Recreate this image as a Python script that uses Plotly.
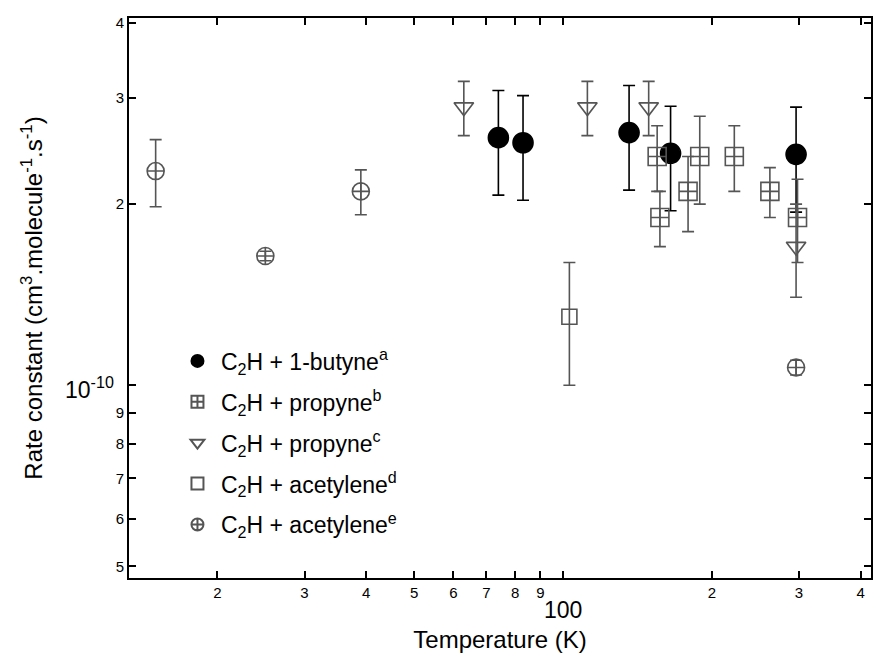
import plotly.graph_objects as go

# C2H + 1-butyne (a)
butyne_T = [74, 83, 136, 165, 296]
butyne_k = [2.58e-10, 2.53e-10, 2.63e-10, 2.43e-10, 2.42e-10]
butyne_err = [0.51e-10, 0.50e-10, 0.52e-10, 0.48e-10, 0.48e-10]

# C2H + propyne (b)
propyne_b_T = [155, 157, 179, 189, 222, 262, 298]
propyne_b_k = [2.4e-10, 1.9e-10, 2.1e-10, 2.4e-10, 2.4e-10, 2.1e-10, 1.9e-10]
propyne_b_err = [0.3e-10, 0.2e-10, 0.3e-10, 0.4e-10, 0.3e-10, 0.2e-10, 0.3e-10]

# C2H + propyne (c)
propyne_c_T = [63, 112, 149, 296]
propyne_c_k = [2.9e-10, 2.9e-10, 2.9e-10, 1.7e-10]
propyne_c_err = [0.3e-10, 0.3e-10, 0.3e-10, 0.3e-10]

# C2H + acetylene (d)
acetylene_d_T = [103]
acetylene_d_k = [1.3e-10]
acetylene_d_err = [0.3e-10]

# C2H + acetylene (e)
acetylene_e_T = [15, 25, 39, 296]
acetylene_e_k = [2.27e-10, 1.64e-10, 2.10e-10, 1.07e-10]
acetylene_e_err = [0.29e-10, 0.03e-10, 0.18e-10, 0.03e-10]

# Tick labels (the decade labels are drawn larger, as separate annotations)
x_tickvals = [20, 30, 40, 50, 60, 70, 80, 90, 100, 200, 300, 400]
x_ticktext = ["2", "3", "4", "5", "6", "7", "8", "9", "", "2", "3", "4"]
y_tickvals = [5e-11, 6e-11, 7e-11, 8e-11, 9e-11, 1e-10, 2e-10, 3e-10, 4e-10]
y_ticktext = ["5", "6", "7", "8", "9", "", "2", "3", "4"]
x_decade_label = "100"
y_decade_label = "10<sup>-10</sup>"

GRAY = "#555555"
FONT = "Liberation Sans, Arial, Helvetica, sans-serif"

fig = go.Figure()


def add_series(T, k, err, name, symbol, size, color, fill=None):
    fig.add_trace(go.Scatter(
        x=T, y=k, mode="markers", name=name, legendgroup=name,
        marker=dict(symbol=symbol, size=size,
                    color=fill if fill else color,
                    line=dict(color=color, width=1.6)),
        error_y=dict(type="data", array=err, arrayminus=err, visible=True,
                     color=color, thickness=1.6, width=6),
    ))


add_series(butyne_T, butyne_k, butyne_err,
           "C<sub>2</sub>H + 1-butyne<sup>a</sup>", "circle", 20, "black", fill="black")
add_series(propyne_b_T, propyne_b_k, propyne_b_err,
           "C<sub>2</sub>H + propyne<sup>b</sup>", "square-cross-open", 18, GRAY)
add_series(propyne_c_T, propyne_c_k, propyne_c_err,
           "C<sub>2</sub>H + propyne<sup>c</sup>", "triangle-down-open", 17, GRAY)
add_series(acetylene_d_T, acetylene_d_k, acetylene_d_err,
           "C<sub>2</sub>H + acetylene<sup>d</sup>", "square-open", 15, GRAY)
add_series(acetylene_e_T, acetylene_e_k, acetylene_e_err,
           "C<sub>2</sub>H + acetylene<sup>e</sup>", "circle-cross-open", 17, GRAY)

x_range = [1.1222, 2.6228]
y_range = [-10.3205, -9.3895]

fig.update_layout(
    width=875, height=659,
    margin=dict(l=129, r=2, t=18, b=81),
    paper_bgcolor="white", plot_bgcolor="white",
    font=dict(family=FONT, size=15, color="black"),
    showlegend=True,
    legend=dict(x=0.0606, y=0.426, xanchor="left", yanchor="top",
                bgcolor="rgba(0,0,0,0)", font=dict(size=23, color="black"),
                itemsizing="constant", itemwidth=37, tracegroupgap=8),
    xaxis=dict(type="log", range=x_range, tickvals=x_tickvals, ticktext=x_ticktext,
               tickangle=0,
               ticks="inside", ticklen=7, tickwidth=1.5, tickcolor="black",
               showline=True, linecolor="black", linewidth=2, mirror="ticks",
               showgrid=False, zeroline=False,
               title=dict(text="Temperature (K)", font=dict(size=24), standoff=31)),
    xaxis2=dict(type="log", range=x_range, overlaying="x", anchor="y",
                tickvals=[100], ticks="inside", ticklen=14, tickwidth=1.5,
                tickcolor="black", mirror="ticks", showline=False,
                showticklabels=False, showgrid=False, zeroline=False),
    yaxis=dict(type="log", range=y_range, tickvals=y_tickvals, ticktext=y_ticktext,
               ticks="inside", ticklen=7, tickwidth=1.5, tickcolor="black",
               showline=True, linecolor="black", linewidth=2, mirror="ticks",
               showgrid=False, zeroline=False,
               title=dict(text="Rate constant (cm<sup>3</sup>.molecule<sup>-1</sup>.s<sup>-1</sup>)",
                          font=dict(size=24), standoff=66)),
    annotations=[
        dict(text=x_decade_label, x=2, xref="x", y=-0.057, yref="paper",
             xanchor="center", yanchor="middle", showarrow=False,
             font=dict(size=23)),
        dict(text=y_decade_label, x=-0.0175, xref="paper", y=-10, yref="y",
             xanchor="right", yanchor="middle", yshift=-3, showarrow=False,
             font=dict(size=23)),
    ],
)

fig.write_html("out.html")
